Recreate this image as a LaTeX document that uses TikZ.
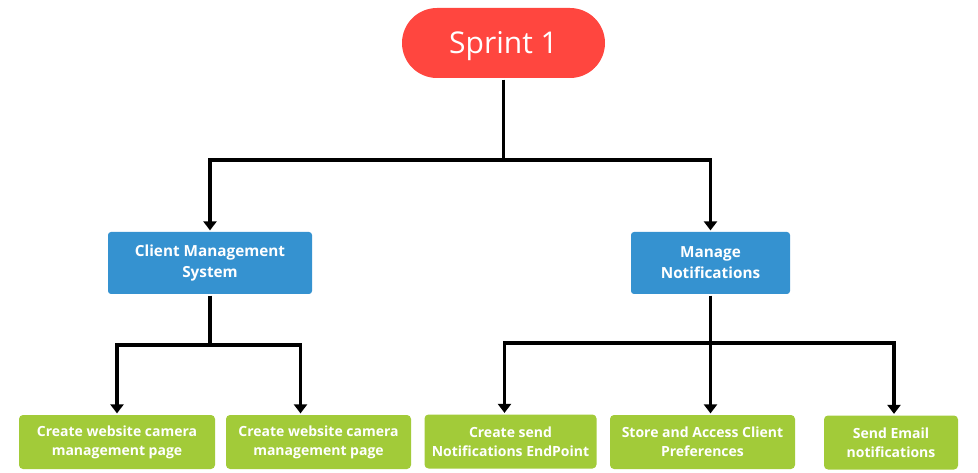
\documentclass[tikz,border=0pt]{standalone}
\usepackage{fontspec}
\setmainfont{Open Sans}
\usetikzlibrary{arrows.meta}
\definecolor{sprintred}{HTML}{FF463F}
\definecolor{featblue}{HTML}{3592D0}
\definecolor{taskgreen}{HTML}{A2CB39}
\begin{document}
\begin{tikzpicture}[x=1pt, y=-1pt, line width=3.2pt,
  sprint/.style={rectangle, rounded corners=35pt, fill=sprintred, text=white, minimum width=203pt, minimum height=70pt, inner sep=0pt, text height=22pt, text depth=0pt, font=\fontsize{30}{36}\selectfont},
  feature/.style={rectangle, rounded corners=3pt, fill=featblue, text=white, minimum height=62pt, inner sep=0pt, align=center, font=\fontsize{15.3}{21}\selectfont\bfseries},
  task/.style={rectangle, rounded corners=4pt, fill=taskgreen, text=white, minimum height=54pt, inner sep=0pt, align=center, font=\fontsize{14}{19}\selectfont\bfseries},
  arr/.style={-{Triangle[width=13pt,length=9pt]}}]

\useasboundingbox (0,0) rectangle (978,473);

% sprint and its two features
\node[sprint] (sprint) at (503.5,43) {Sprint 1};
\node[feature, minimum width=204pt] (cms) at (210,263) {Client Management\\System};
\node[feature, minimum width=159pt] (notif) at (710.5,263) {Manage\\Notifications};

% tasks
\node[task, minimum width=196pt] (web1) at (117,442) {Create website camera\\management page};
\node[task, minimum width=185pt] (web2) at (318.5,442) {Create website camera\\management page};
\node[task, minimum width=172pt] (endpoint) at (510.5,441.5) {Create send\\Notifications EndPoint};
\node[task, minimum width=185pt] (prefs) at (702.5,442) {Store and Access Client\\Preferences};
\node[task, minimum width=134pt] (email) at (891,442.5) {Send Email\\notifications};

% connectors
\coordinate (split) at (503.5,160);
\draw[arr] (sprint.south) -- (split) -| (cms.north);
\draw[arr] (split) -| (notif.north);

\coordinate (cmssplit) at (210,345);
\draw[arr] (cms.south) -- (cmssplit) -| (web1.north);
\draw[arr] (cmssplit) -| ([xshift=-18pt]web2.north);

\coordinate (notifsplit) at (710.5,343);
\draw[arr] (notif.south) -- (notifsplit) -| ([xshift=-6pt]endpoint.north);
\draw[arr] (notifsplit) -- ([xshift=8pt]prefs.north);
\draw[arr] (notifsplit) -| ([xshift=3pt]email.north);
\end{tikzpicture}
\end{document}
